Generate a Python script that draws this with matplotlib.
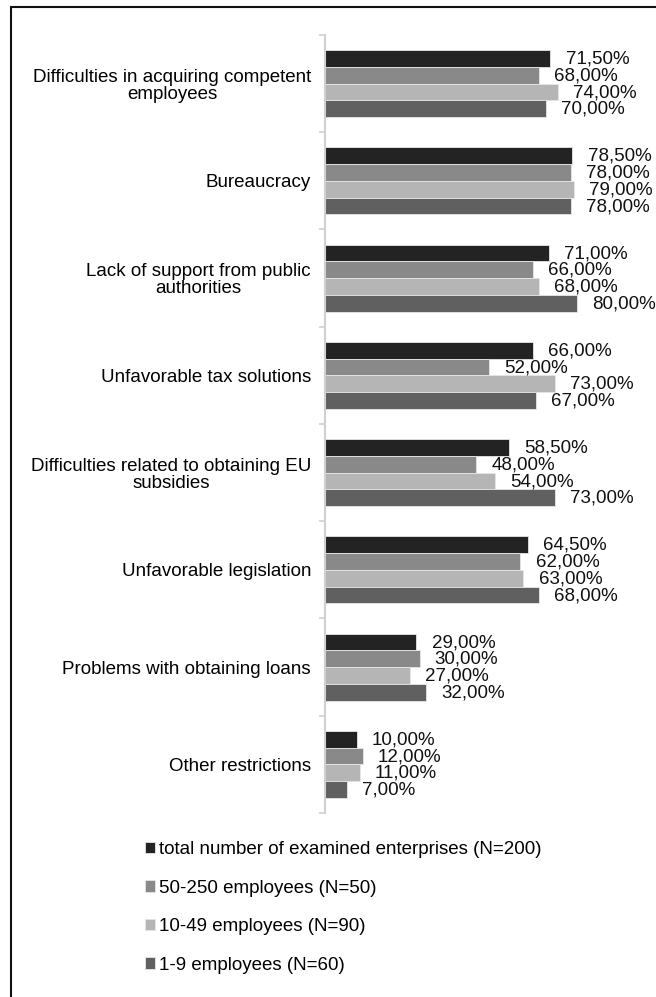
import matplotlib.pyplot as plt
from matplotlib.patches import Rectangle
import numpy as np

plt.rcParams['font.family'] = ['Liberation Sans', 'DejaVu Sans']

# Barriers to business and the share of firms naming each one (%)
categories = [
    'Difficulties in acquiring competent\nemployees',
    'Bureaucracy',
    'Lack of support from public\nauthorities',
    'Unfavorable tax solutions',
    'Difficulties related to obtaining EU\nsubsidies',
    'Unfavorable legislation',
    'Problems with obtaining loans',
    'Other restrictions',
]
total = [71.5, 78.5, 71.0, 66.0, 58.5, 64.5, 29.0, 10.0]
large = [68.0, 78.0, 66.0, 52.0, 48.0, 62.0, 30.0, 12.0]
medium = [74.0, 79.0, 68.0, 73.0, 54.0, 63.0, 27.0, 11.0]
small = [70.0, 78.0, 80.0, 67.0, 73.0, 68.0, 32.0, 7.0]

series = [total, large, medium, small]
names = ['total number of examined enterprises (N=200)',
         '50-250 employees (N=50)',
         '10-49 employees (N=90)',
         '1-9 employees (N=60)']
colors = ['#232323', '#898989', '#b5b5b5', '#606060']

fs = 13.5
W, H = 656, 997
fig = plt.figure(figsize=(W / 100, H / 100), dpi=100)
ax = fig.add_axes([325 / W, 1 - 813 / H, 315 / W, 778 / H])

h = 0.172
centers = np.arange(len(categories)) + 0.5
bars = []
for k, (vals, name, col) in enumerate(zip(series, names, colors)):
    y = centers + (k - 1.5) * h
    b = ax.barh(y, vals, height=h, color=col, edgecolor='#e6e6e6',
                linewidth=0.6, label=name)
    bars.append(b)
    for yy, v in zip(y, vals):
        ax.annotate(f'{v:.2f}%'.replace('.', ','), (v, yy),
                    xytext=(11, -0.5), textcoords='offset points',
                    ha='left', va='center', fontsize=fs, color='#111111')

ax.set_xlim(0, 100)
ax.set_ylim(len(categories), 0)
ax.set_xticks([])
ax.set_yticks(np.arange(len(categories) + 1))
ax.set_yticklabels([])
ax.set_yticks(centers, minor=True)
ax.set_yticklabels(categories, minor=True, fontsize=fs, linespacing=1.0,
                   multialignment='center')
ax.tick_params(axis='y', which='major', length=4, width=1.2, color='#d0d0d0')
ax.tick_params(axis='y', which='minor', length=0, pad=10)
for s in ['top', 'right', 'bottom']:
    ax.spines[s].set_visible(False)
ax.spines['left'].set_color('#d0d0d0')
ax.spines['left'].set_linewidth(1.5)

fig.legend(handles=bars, loc='upper left',
           bbox_to_anchor=(145 / W, 1 - 841 / H), frameon=False,
           fontsize=fs, handlelength=0.55, handleheight=0.55,
           handletextpad=0.18, labelspacing=1.15, borderpad=0,
           borderaxespad=0)

# outer frame
fig.patches.append(Rectangle((11 / W, -0.05), 1.1, 0.05 + 1 - 7 / H,
                             transform=fig.transFigure, fill=False,
                             edgecolor='#111111', linewidth=1.5))

fig.savefig('out.png', dpi=100)
